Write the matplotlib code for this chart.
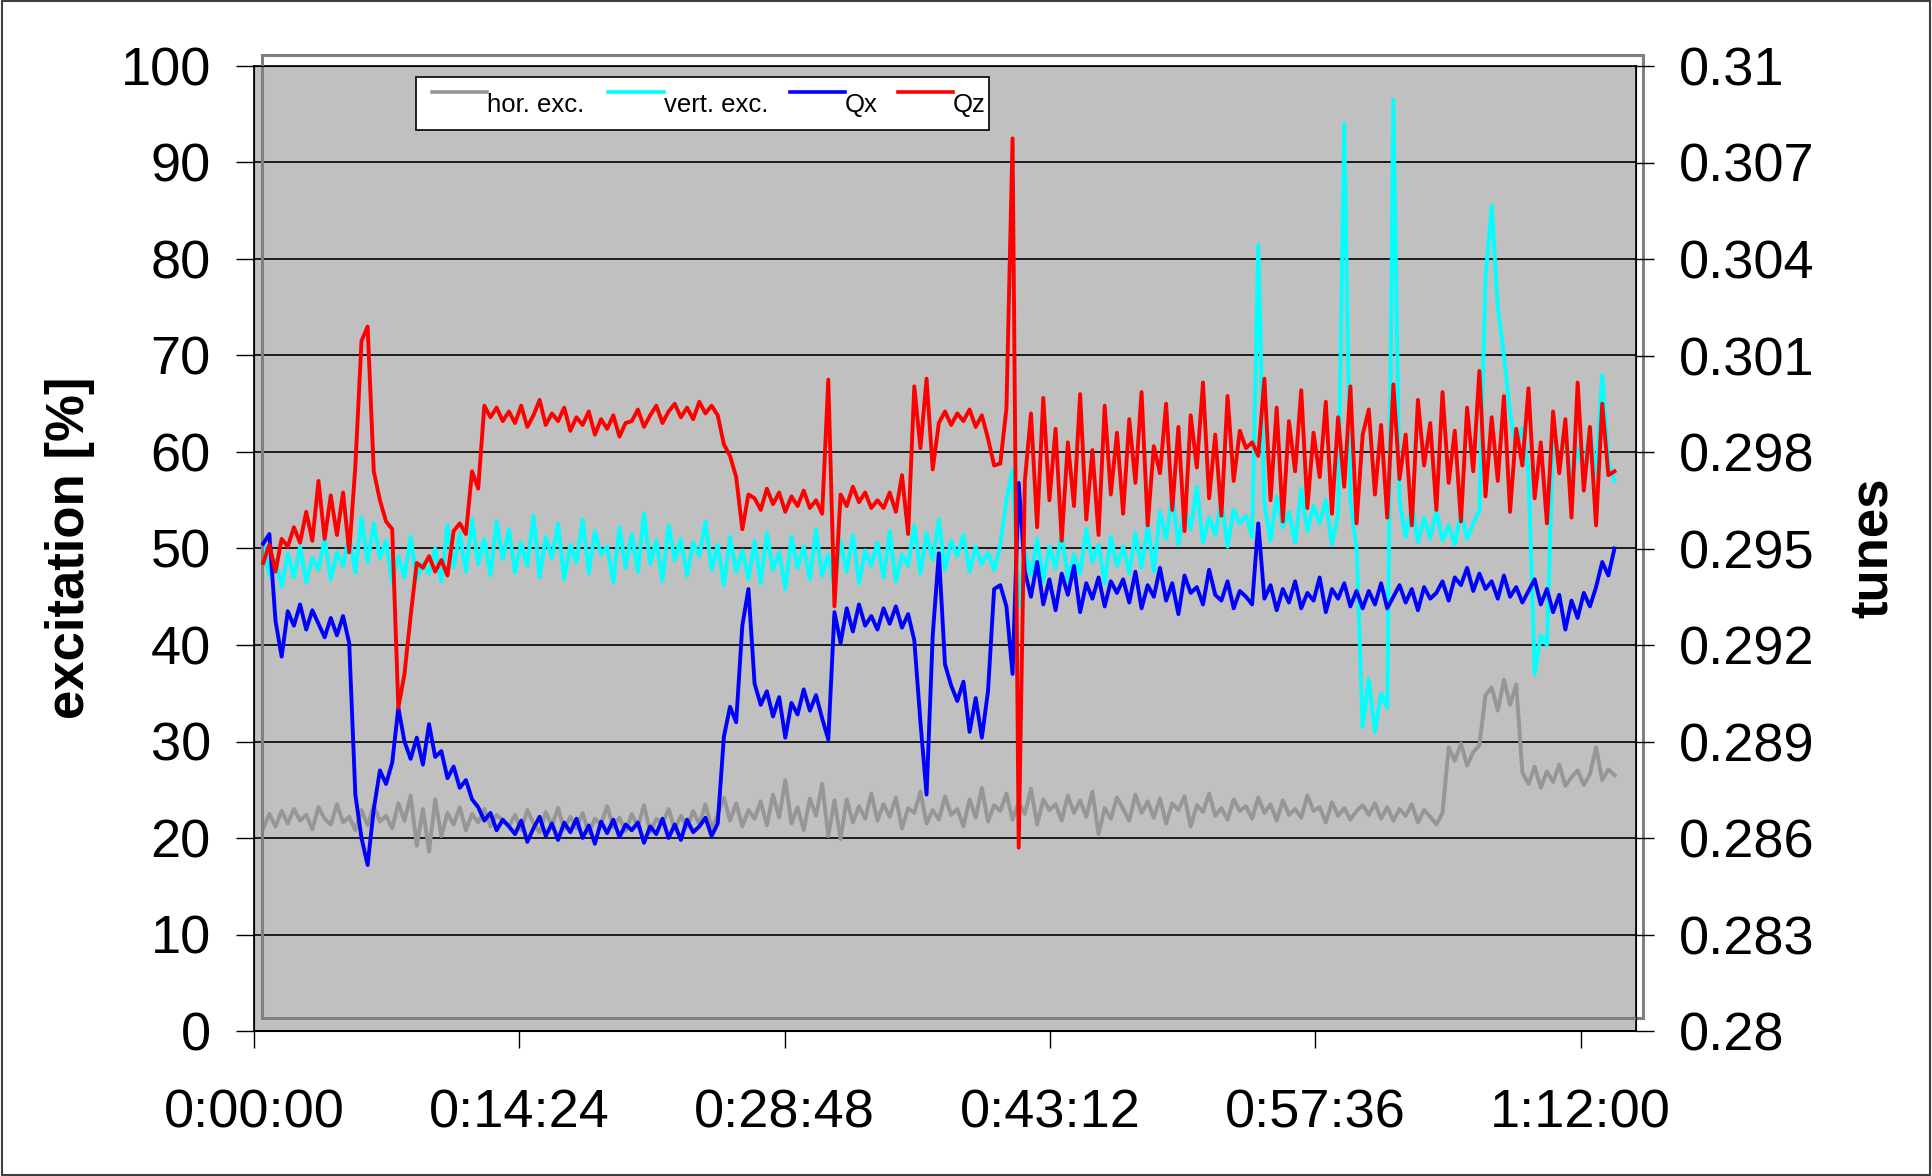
import numpy as np
import matplotlib
matplotlib.use('Agg')
import matplotlib.pyplot as plt
from matplotlib.lines import Line2D
from matplotlib.patches import Rectangle

plt.rcParams['font.family'] = ['Liberation Sans', 'DejaVu Sans']

W, H = 1932, 1176

# time in seconds, one sample every 20 s
t = np.arange(30, 4450, 20)

# horizontal excitation [%]
hor_exc = [
    21.0, 22.5, 21.2, 22.8, 21.5, 23.0, 21.8, 22.4, 20.9, 23.2, 22.0, 21.4, 23.5, 21.6, 22.2, 20.8, 22.9, 21.3, 23.4, 21.7,
    22.3, 21.0, 23.6, 21.8, 24.4, 19.2, 23.0, 18.6, 24.0, 20.2, 22.6, 21.4, 23.2, 20.8, 22.5, 21.6, 23.0, 21.2, 22.4, 21.8,
    21.2, 22.4, 20.8, 22.9, 21.5, 20.6, 22.7, 21.3, 23.1, 20.9, 22.2, 21.0, 22.6, 20.5, 22.0, 21.4, 23.3, 21.1, 22.1, 20.7,
    22.5, 21.2, 23.4, 20.6, 22.0, 21.5, 23.0, 20.9, 22.3, 21.1, 22.8, 21.4, 23.5, 21.0, 22.4, 24.2, 21.8, 23.6, 21.2, 22.9,
    22.0, 23.8, 21.3, 24.5, 22.1, 26.0, 21.5, 23.2, 20.8, 24.1, 22.3, 25.6, 20.2, 23.9, 19.9, 24.0, 21.6, 23.3, 22.0, 24.6,
    21.8, 23.5, 22.2, 24.2, 21.0, 23.1, 22.6, 24.8, 21.5, 22.9, 21.9, 24.3, 22.4, 23.0, 21.2, 24.0, 22.1, 25.2, 21.7, 23.4,
    22.8, 24.6, 21.9, 23.7, 22.5, 25.1, 21.4, 24.0, 22.9, 23.5, 21.8, 24.4, 22.6, 23.9, 22.2, 24.8, 20.4, 23.1, 22.0, 24.2,
    23.0, 21.8, 24.5, 22.6, 23.8, 22.1, 24.1, 21.5, 23.6, 22.9, 24.3, 21.2, 23.4, 22.7, 24.6, 22.3, 23.1, 21.9, 24.0, 22.8,
    23.3, 22.0, 24.2, 22.6, 23.5, 21.8, 23.9, 22.4, 23.0, 22.1, 24.4, 22.8, 23.2, 21.6, 23.7, 22.3, 23.1, 21.9, 22.8, 23.4,
    22.4, 23.6, 22.0, 23.2, 21.8, 23.0, 22.3, 23.5, 21.6, 22.9, 22.2, 21.4, 22.6, 29.4, 28.0, 29.8, 27.5, 28.9, 29.6, 34.8,
    35.6, 33.2, 36.4, 33.8, 35.9, 26.8, 25.6, 27.4, 25.2, 26.9, 25.8, 27.6, 25.4, 26.3, 27.0, 25.5, 26.6, 29.4, 26.0, 27.1,
    26.5,
]

# vertical excitation [%]
vert_exc = [
    50.5, 47.2, 48.8, 46.0, 49.5, 47.0, 50.2, 46.5, 49.0, 47.8, 51.0, 46.8, 49.6, 48.2, 51.5, 47.5, 53.2, 48.6, 52.6, 49.0,
    50.8, 46.4, 49.2, 47.0, 51.2, 46.8, 48.5, 47.4, 50.0, 46.6, 52.4, 48.0, 51.6, 47.6, 53.0, 48.4, 51.0, 47.2, 52.8, 48.9,
    52.0, 47.5, 50.6, 48.2, 53.4, 47.0, 51.2, 49.0, 52.6, 46.8, 50.4, 48.6, 53.0, 47.4, 51.8, 49.4, 50.2, 46.5, 52.2, 48.0,
    51.5, 47.6, 53.6, 48.4, 50.8, 46.6, 52.4, 48.8, 51.0, 47.2, 50.6, 49.2, 52.8, 47.8, 50.4, 46.2, 51.2, 47.6, 49.8, 46.8,
    50.8, 46.4, 51.6, 47.8, 49.6, 45.8, 51.2, 48.0, 50.2, 46.8, 52.0, 47.2, 49.4, 46.0, 50.8, 47.6, 51.4, 46.4, 49.8, 48.2,
    50.6, 47.0, 51.8, 46.6, 49.4, 48.2, 52.4, 47.4, 51.6, 48.8, 53.0, 47.8, 50.8, 49.2, 51.4, 47.6, 50.2, 48.4, 49.6, 47.8,
    50.4, 55.0, 58.2, 44.0, 49.8, 47.2, 51.0, 46.6, 50.2, 48.0, 51.6, 46.8, 49.4, 47.4, 52.0, 48.6, 50.4, 46.4, 51.2, 48.2,
    50.2, 47.4, 51.6, 48.0, 52.4, 47.6, 53.8, 51.0, 55.6, 50.4, 54.2, 52.0, 56.4, 50.6, 53.2, 51.4, 55.0, 50.2, 54.0, 52.6,
    53.4, 51.2, 81.5, 54.6, 50.8, 55.4, 52.2, 53.8, 50.6, 56.2, 51.8, 54.4, 52.6, 55.0, 50.4, 53.6, 94.0, 55.0, 50.0, 31.5,
    36.5, 31.0, 35.0, 33.5, 96.5, 55.0, 51.2, 54.6, 50.6, 53.2, 51.0, 54.0, 50.8, 52.4, 50.4, 53.8, 51.0, 52.6, 54.0, 78.0,
    85.5, 75.0, 70.0, 64.0, 60.5, 62.5, 58.0, 37.0, 41.0, 40.0, 62.0, 58.5, 61.6, 57.2, 60.4, 58.0, 62.4, 57.6, 68.0, 59.0,
    57.0,
]

# horizontal tune
qx = [
    0.29515, 0.29545, 0.29275, 0.29164, 0.29305, 0.29260, 0.29326, 0.29248, 0.29308, 0.29266,
    0.29224, 0.29284, 0.29230, 0.29290, 0.29206, 0.28735, 0.28600, 0.28516, 0.28690, 0.28810,
    0.28768, 0.28834, 0.29005, 0.28900, 0.28846, 0.28912, 0.28828, 0.28954, 0.28852, 0.28870,
    0.28786, 0.28822, 0.28756, 0.28780, 0.28720, 0.28696, 0.28654, 0.28678, 0.28624, 0.28657,
    0.28636, 0.28612, 0.28654, 0.28588, 0.28630, 0.28666, 0.28606, 0.28645, 0.28594, 0.28648,
    0.28618, 0.28660, 0.28600, 0.28639, 0.28582, 0.28651, 0.28615, 0.28657, 0.28603, 0.28642,
    0.28624, 0.28648, 0.28585, 0.28636, 0.28612, 0.28660, 0.28600, 0.28642, 0.28594, 0.28657,
    0.28618, 0.28636, 0.28663, 0.28606, 0.28645, 0.28915, 0.29008, 0.28960, 0.29260, 0.29374,
    0.29080, 0.29014, 0.29056, 0.28978, 0.29038, 0.28912, 0.29020, 0.28984, 0.29062, 0.28996,
    0.29044, 0.28972, 0.28906, 0.29302, 0.29206, 0.29314, 0.29242, 0.29326, 0.29260, 0.29290,
    0.29248, 0.29314, 0.29266, 0.29320, 0.29254, 0.29296, 0.29215, 0.28960, 0.28735, 0.29230,
    0.29485, 0.29140, 0.29074, 0.29026, 0.29086, 0.28930, 0.29035, 0.28912, 0.29056, 0.29374,
    0.29386, 0.29320, 0.29110, 0.29704, 0.29428, 0.29350, 0.29458, 0.29326, 0.29404, 0.29308,
    0.29422, 0.29356, 0.29446, 0.29302, 0.29392, 0.29344, 0.29410, 0.29320, 0.29398, 0.29362,
    0.29404, 0.29332, 0.29428, 0.29314, 0.29386, 0.29350, 0.29440, 0.29338, 0.29392, 0.29296,
    0.29416, 0.29362, 0.29380, 0.29326, 0.29434, 0.29356, 0.29338, 0.29398, 0.29314, 0.29368,
    0.29350, 0.29326, 0.29578, 0.29344, 0.29386, 0.29308, 0.29374, 0.29332, 0.29398, 0.29314,
    0.29362, 0.29338, 0.29410, 0.29302, 0.29374, 0.29344, 0.29392, 0.29320, 0.29368, 0.29314,
    0.29368, 0.29326, 0.29392, 0.29314, 0.29350, 0.29386, 0.29332, 0.29374, 0.29308, 0.29380,
    0.29344, 0.29362, 0.29398, 0.29338, 0.29410, 0.29386, 0.29440, 0.29368, 0.29422, 0.29374,
    0.29398, 0.29344, 0.29416, 0.29350, 0.29380, 0.29332, 0.29368, 0.29404, 0.29326, 0.29374,
    0.29302, 0.29356, 0.29248, 0.29338, 0.29284, 0.29362, 0.29320, 0.29380, 0.29458, 0.29416,
    0.29500,
]

# vertical tune
qz = [
    0.29455, 0.29512, 0.29428, 0.29530, 0.29506, 0.29566, 0.29518, 0.29614, 0.29524, 0.29710,
    0.29530, 0.29665, 0.29542, 0.29674, 0.29488, 0.29755, 0.30145, 0.30190, 0.29740, 0.29650,
    0.29584, 0.29560, 0.29005, 0.29110, 0.29290, 0.29455, 0.29440, 0.29476, 0.29428, 0.29464,
    0.29416, 0.29554, 0.29578, 0.29545, 0.29740, 0.29686, 0.29944, 0.29908, 0.29938, 0.29896,
    0.29926, 0.29890, 0.29944, 0.29878, 0.29914, 0.29962, 0.29884, 0.29920, 0.29896, 0.29938,
    0.29866, 0.29908, 0.29884, 0.29926, 0.29854, 0.29902, 0.29872, 0.29914, 0.29848, 0.29890,
    0.29896, 0.29932, 0.29878, 0.29914, 0.29944, 0.29890, 0.29926, 0.29950, 0.29908, 0.29938,
    0.29902, 0.29956, 0.29920, 0.29944, 0.29914, 0.29824, 0.29788, 0.29722, 0.29560, 0.29668,
    0.29656, 0.29620, 0.29686, 0.29638, 0.29674, 0.29614, 0.29662, 0.29632, 0.29680, 0.29626,
    0.29650, 0.29608, 0.30025, 0.29320, 0.29668, 0.29632, 0.29692, 0.29644, 0.29674, 0.29626,
    0.29650, 0.29626, 0.29674, 0.29614, 0.29728, 0.29545, 0.30004, 0.29812, 0.30028, 0.29746,
    0.29890, 0.29926, 0.29884, 0.29920, 0.29896, 0.29932, 0.29878, 0.29914, 0.29842, 0.29758,
    0.29764, 0.29935, 0.30775, 0.28570, 0.29710, 0.29920, 0.29566, 0.29968, 0.29650, 0.29872,
    0.29524, 0.29830, 0.29632, 0.29980, 0.29590, 0.29806, 0.29542, 0.29944, 0.29668, 0.29860,
    0.29608, 0.29902, 0.29704, 0.29986, 0.29572, 0.29818, 0.29734, 0.29950, 0.29620, 0.29878,
    0.29554, 0.29914, 0.29752, 0.30016, 0.29656, 0.29854, 0.29602, 0.29974, 0.29710, 0.29866,
    0.29812, 0.29830, 0.29788, 0.30028, 0.29650, 0.29938, 0.29584, 0.29896, 0.29740, 0.29992,
    0.29626, 0.29860, 0.29722, 0.29956, 0.29608, 0.29908, 0.29692, 0.30004, 0.29578, 0.29854,
    0.29932, 0.29668, 0.29884, 0.29596, 0.30010, 0.29716, 0.29854, 0.29572, 0.29962, 0.29758,
    0.29890, 0.29620, 0.29986, 0.29704, 0.29866, 0.29584, 0.29938, 0.29740, 0.30052, 0.29662,
    0.29908, 0.29710, 0.29974, 0.29614, 0.29872, 0.29758, 0.29998, 0.29656, 0.29830, 0.29578,
    0.29926, 0.29734, 0.29902, 0.29596, 0.30016, 0.29680, 0.29878, 0.29572, 0.29950, 0.29728,
    0.29740,
]

x_ticks = [0, 864, 1728, 2592, 3456, 4320]
x_labels = ['0:00:00', '0:14:24', '0:28:48', '0:43:12', '0:57:36', '1:12:00']
tune_ticks = [0.28, 0.283, 0.286, 0.289, 0.292, 0.295, 0.298, 0.301, 0.304, 0.307, 0.31]
tune_labels = ['0.28', '0.283', '0.286', '0.289', '0.292', '0.295', '0.298', '0.301', '0.304', '0.307', '0.31']

names = ['hor. exc.', 'vert. exc.', 'Qx', 'Qz']
colors = ['#969696', '#00FFFF', '#0000FF', '#FF0000']
LW = 2.8


def fx(px):
    return px / W


def fy(py):
    return 1 - py / H


fig = plt.figure(figsize=(W / 100, H / 100), dpi=100)

# left axis: excitation
ax = fig.add_axes([fx(254), fy(1031), (1636 - 254) / W, (1031 - 66) / H])
ax.set_facecolor('#C0C0C0')
ax.plot(t, hor_exc, color=colors[0], lw=LW)
ax.plot(t, vert_exc, color=colors[1], lw=LW)
ax.set_xlim(0, 4500)
ax.set_ylim(0, 100)
ax.set_yticks(range(0, 101, 10))
ax.set_xticks(x_ticks)
ax.set_xticklabels(x_labels)
ax.grid(axis='y', color='black', lw=1.2)
ax.set_axisbelow(True)
ax.tick_params(axis='y', direction='out', length=13, width=1, pad=18, labelsize=39)
ax.tick_params(axis='x', direction='out', length=12.5, width=1, pad=29, labelsize=39)
for s in ax.spines.values():
    s.set_color('black')
    s.set_linewidth(1.2)

# right axis: tunes
ax2 = ax.twinx()
ax2.plot(t, qx, color=colors[2], lw=LW)
ax2.plot(t, qz, color=colors[3], lw=LW)
ax2.set_ylim(0.28, 0.31)
ax2.set_yticks(tune_ticks)
ax2.set_yticklabels(tune_labels)
ax2.tick_params(axis='y', direction='out', length=13, width=1, pad=18, labelsize=39)
ax2.set_zorder(1)

# offset grey plot-area frame (Excel style)
fig.add_artist(Rectangle((fx(262), fy(1018)), (1643 - 262) / W, (1018 - 55) / H,
                         transform=fig.transFigure, fill=False, edgecolor='#808080',
                         lw=2.2, zorder=0.5))

# outer figure border
fig.add_artist(Rectangle((0.001, 0.001), 0.998, 0.998, transform=fig.transFigure,
                         fill=False, edgecolor='#404040', lw=1.5, zorder=10))

# legend box
fig.add_artist(Rectangle((fx(416), fy(130)), (989 - 416) / W, (130 - 77) / H,
                         transform=fig.transFigure, facecolor='white', edgecolor='black',
                         lw=1.2, zorder=5))
line_x = [(432, 487), (608, 664), (790, 845), (898, 953)]
for (x0, x1), name, c in zip(line_x, names, colors):
    fig.add_artist(Line2D([fx(x0), fx(x1)], [fy(92), fy(92)], transform=fig.transFigure,
                          color=c, lw=2.6, zorder=6))
    fig.text(fx(x1), fy(105), name, ha='left', va='center', fontsize=18.5, zorder=6)

# axis titles
fig.text(fx(70), fy(548), 'excitation [%]', rotation=90, ha='center', va='center',
         fontsize=38, fontweight='bold')
fig.text(fx(1873), fy(548), 'tunes', rotation=90, ha='center', va='center',
         fontsize=38, fontweight='bold')

fig.savefig('out.png', dpi=100)
